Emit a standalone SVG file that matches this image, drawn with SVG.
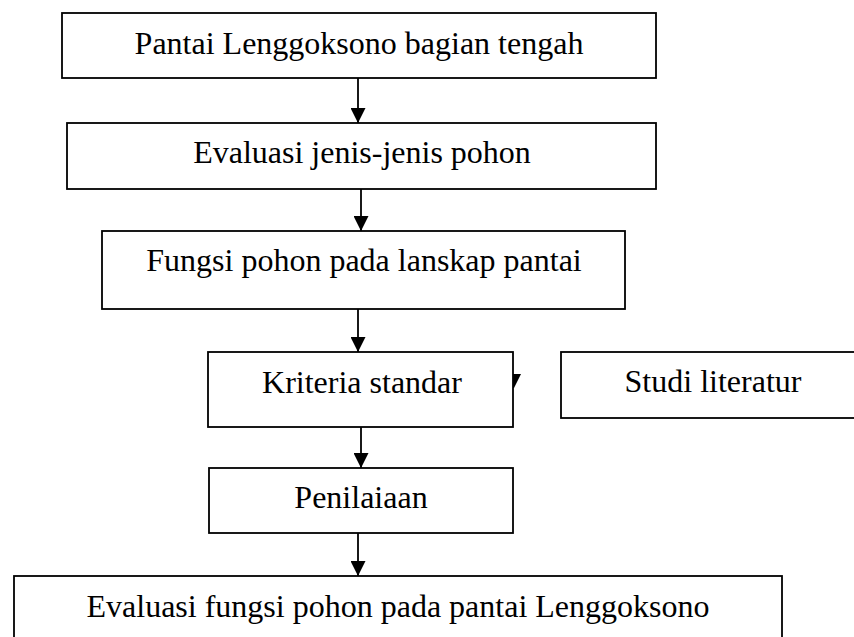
<svg xmlns="http://www.w3.org/2000/svg" width="854" height="637" viewBox="0 0 854 637">
<defs>
<style>
.box{fill:#fff;stroke:#000;stroke-width:1.8}
.lbl{font-family:"Liberation Serif","Times New Roman",serif;font-size:32px;fill:#000;text-anchor:middle}
.con{stroke:#000;stroke-width:1.8;fill:none}
.head{fill:#000}
</style>
<marker id="arr" markerWidth="16" markerHeight="15" refX="15" refY="7.5" orient="auto" markerUnits="userSpaceOnUse" viewBox="0 0 16 15">
<path d="M0,0 L15,7.5 L0,15 Z" class="head"/>
</marker>
</defs>
<rect width="854" height="637" fill="#fff"/>
<g id="n1"><rect class="box" x="62" y="13" width="594" height="65"/><text class="lbl" x="359" y="54">Pantai Lenggoksono bagian tengah</text></g>
<g id="n2"><rect class="box" x="67" y="123" width="589" height="66"/><text class="lbl" x="362" y="163">Evaluasi jenis-jenis pohon</text></g>
<g id="n3"><rect class="box" x="102" y="231" width="523" height="78"/><text class="lbl" x="364" y="271">Fungsi pohon pada lanskap pantai</text></g>
<g id="n4"><rect class="box" x="208" y="352" width="305" height="75"/><text class="lbl" x="362" y="393">Kriteria standar</text></g>
<g id="n5"><rect class="box" x="561" y="352" width="310" height="66"/><text class="lbl" x="713" y="392">Studi literatur</text></g>
<g id="n6"><rect class="box" x="209" y="468" width="304" height="65"/><text class="lbl" x="361" y="508">Penilaiaan</text></g>
<g id="n7"><rect class="box" x="14" y="576" width="768" height="80"/><text class="lbl" x="398" y="617">Evaluasi fungsi pohon pada pantai Lenggoksono</text></g>
<g id="connectors">
<line class="con" x1="358" y1="78" x2="358" y2="123" marker-end="url(#arr)"/>
<line class="con" x1="361" y1="189" x2="361" y2="231" marker-end="url(#arr)"/>
<line class="con" x1="358" y1="309" x2="358" y2="352" marker-end="url(#arr)"/>
<line class="con" x1="361" y1="427" x2="361" y2="468" marker-end="url(#arr)"/>
<line class="con" x1="358" y1="533" x2="358" y2="576" marker-end="url(#arr)"/>
<polygon class="head" points="513,374 521,374 514,388 513,388"/>
</g>
</svg>
